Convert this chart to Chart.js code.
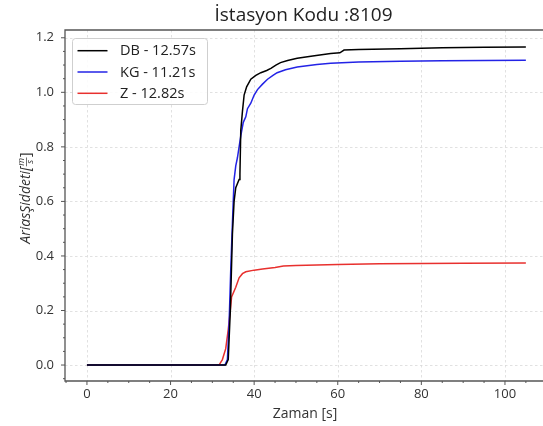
<!DOCTYPE html>
<html>
<head>
<meta charset="utf-8">
<script src="https://cdn.jsdelivr.net/npm/chart.js@4.4.1/dist/chart.umd.min.js"></script>
<style>
  html, body { margin: 0; padding: 0; background: #fff; overflow: hidden; }
</style>
</head>
<body>
<canvas id="chart" width="543" height="426"></canvas>
<script>
// Başlık ve seri etiketleri
const TITLE = "İstasyon Kodu :8109";
const SERIES_LABELS = ["DB - 12.57s", "KG - 11.21s", "Z - 12.82s"];
const SERIES_COLORS = ["#000000", "#2323e6", "#e8302e"];

// Eksen işaretleri
const X_TICKS = [0, 20, 40, 60, 80, 100];
const Y_TICKS = [0.0, 0.2, 0.4, 0.6, 0.8, 1.0, 1.2];

// DB bileşeni (zaman, Arias şiddeti)
const DB_T = [0, 33.2, 33.8, 34.3, 34.8, 35.2, 35.6, 36.4, 36.6, 36.8, 37.2, 37.6, 38.2, 39.2, 40.4, 41.6, 43, 44, 45.2, 46.3, 48, 50.3, 54, 58.3, 60.5, 61.5, 65, 75, 85, 95, 105];
const DB_V = [0, 0, 0.02, 0.2, 0.48, 0.6, 0.65, 0.68, 0.70, 0.86, 0.93, 0.99, 1.02, 1.048, 1.062, 1.072, 1.08, 1.088, 1.1, 1.109, 1.117, 1.125, 1.133, 1.142, 1.145, 1.155, 1.157, 1.16, 1.163, 1.165, 1.166];

// KG bileşeni
const KG_T = [0, 33.0, 33.6, 34.0, 34.4, 34.8, 35.2, 35.6, 36.0, 36.8, 37.4, 38.0, 38.4, 39.2, 40.0, 40.8, 42, 43.2, 44.5, 45.5, 47.5, 50.3, 55, 58.3, 65, 75, 85, 95, 105];
const KG_V = [0, 0, 0.02, 0.15, 0.35, 0.52, 0.68, 0.73, 0.76, 0.84, 0.89, 0.91, 0.94, 0.96, 0.99, 1.01, 1.03, 1.048, 1.062, 1.072, 1.083, 1.093, 1.102, 1.107, 1.111, 1.114, 1.116, 1.117, 1.118];

// Z bileşeni
const Z_T = [0, 31.6, 32.4, 33.2, 33.8, 34.3, 34.6, 35.6, 36.4, 37.2, 38, 40, 42, 45, 47, 50, 55, 60, 70, 80, 90, 105];
const Z_V = [0, 0, 0.02, 0.06, 0.13, 0.2, 0.25, 0.285, 0.32, 0.335, 0.342, 0.348, 0.352, 0.358, 0.363, 0.365, 0.367, 0.369, 0.371, 0.372, 0.373, 0.374];

const FONT = "'Open Sans', 'Noto Sans', sans-serif";
const toPoints = (t, v) => t.map((x, i) => ({ x: x, y: v[i] }));

// Izgara, eksen çizgileri, başlık, eksen adları ve lejant
const decor = {
    id: "decor",
    beforeDatasetsDraw(chart) {
        const { ctx, chartArea: a, scales: { x, y } } = chart;
        ctx.save();
        ctx.strokeStyle = "#d9d9d9";
        ctx.lineWidth = 0.8;
        ctx.setLineDash([2.5, 2.5]);
        X_TICKS.forEach(v => {
            const px = Math.round(x.getPixelForValue(v)) + 0.5;
            ctx.beginPath(); ctx.moveTo(px, a.top); ctx.lineTo(px, a.bottom); ctx.stroke();
        });
        Y_TICKS.forEach(v => {
            const py = Math.round(y.getPixelForValue(v)) + 0.5;
            ctx.beginPath(); ctx.moveTo(a.left, py); ctx.lineTo(a.right, py); ctx.stroke();
        });
        ctx.restore();
    },
    afterDatasetsDraw(chart) {
        const { ctx, chartArea: a, scales: { x, y } } = chart;
        ctx.save();
        // eksen çizgileri
        ctx.strokeStyle = "#555";
        ctx.lineWidth = 1.3;
        ctx.beginPath();
        ctx.moveTo(a.right, a.top); ctx.lineTo(a.left, a.top);
        ctx.lineTo(a.left, a.bottom); ctx.lineTo(a.right, a.bottom);
        ctx.stroke();
        // küçük ve büyük çentikler
        ctx.lineWidth = 1;
        for (let v = -5; v <= 110; v += 5) {
            const px = x.getPixelForValue(v);
            if (px < a.left || px > a.right) continue;
            const len = v % 20 === 0 ? 4 : 2;
            ctx.beginPath(); ctx.moveTo(px, a.bottom); ctx.lineTo(px, a.bottom + len); ctx.stroke();
        }
        for (let k = -1; k <= 24; k++) {
            const v = k * 0.05;
            const py = y.getPixelForValue(v);
            if (py < a.top || py > a.bottom) continue;
            const len = k % 4 === 0 ? 4 : 2;
            ctx.beginPath(); ctx.moveTo(a.left, py); ctx.lineTo(a.left - len, py); ctx.stroke();
        }
        // başlık
        ctx.fillStyle = "#222";
        ctx.textAlign = "center";
        ctx.textBaseline = "alphabetic";
        ctx.font = "19px " + FONT;
        ctx.fillText(TITLE, 303.5, 21);
        // x ekseni adı
        ctx.font = "14px " + FONT;
        ctx.fillStyle = "#333";
        ctx.fillText("Zaman [s]", 305, 418);
        // y ekseni adı (kesirli birim)
        ctx.save();
        ctx.translate(26, 198);
        ctx.rotate(-Math.PI / 2);
        ctx.textAlign = "left";
        ctx.textBaseline = "middle";
        ctx.font = "italic 14px " + FONT;
        const part1 = "AriasŞiddeti[";
        const w1 = ctx.measureText(part1).width;
        ctx.font = "italic 9px " + FONT;
        const wf = Math.max(ctx.measureText("m").width, ctx.measureText("s").width) + 2;
        ctx.font = "14px " + FONT;
        const w3 = ctx.measureText("]").width;
        let sx = -(w1 + wf + w3) / 2;
        ctx.font = "italic 14px " + FONT;
        ctx.fillText(part1, sx, 0);
        sx += w1;
        ctx.font = "italic 9px " + FONT;
        ctx.textAlign = "center";
        ctx.fillText("m", sx + wf / 2, -4.5);
        ctx.fillText("s", sx + wf / 2, 4.5);
        ctx.lineWidth = 0.7;
        ctx.strokeStyle = "#333";
        ctx.beginPath(); ctx.moveTo(sx + 0.5, 0.5); ctx.lineTo(sx + wf - 0.5, 0.5); ctx.stroke();
        sx += wf;
        ctx.textAlign = "left";
        ctx.font = "14px " + FONT;
        ctx.fillText("]", sx, 0);
        ctx.restore();
        // lejant
        const lx = 72.5, ly = 38.5, lw = 135, lh = 66;
        ctx.fillStyle = "rgba(255,255,255,0.85)";
        ctx.strokeStyle = "#cfcfcf";
        ctx.lineWidth = 1;
        ctx.beginPath();
        ctx.roundRect(lx, ly, lw, lh, 3);
        ctx.fill(); ctx.stroke();
        ctx.font = "14.5px " + FONT;
        ctx.textAlign = "left";
        ctx.textBaseline = "middle";
        chart.data.datasets.forEach((ds, i) => {
            const ry = 50.7 + i * 21.3;
            ctx.strokeStyle = ds.borderColor;
            ctx.lineWidth = 1.5;
            ctx.beginPath(); ctx.moveTo(77.5, ry); ctx.lineTo(107.5, ry); ctx.stroke();
            ctx.fillStyle = "#222";
            ctx.fillText(ds.label, 120, ry + 0.5);
        });
        ctx.restore();
    }
};

const ctx = document.getElementById("chart").getContext("2d");
const chart = new Chart(ctx, {
    type: "line",
    data: {
        datasets: [
            { label: SERIES_LABELS[0], data: toPoints(DB_T, DB_V), borderColor: SERIES_COLORS[0] },
            { label: SERIES_LABELS[1], data: toPoints(KG_T, KG_V), borderColor: SERIES_COLORS[1] },
            { label: SERIES_LABELS[2], data: toPoints(Z_T, Z_V), borderColor: SERIES_COLORS[2] }
        ].map(d => Object.assign(d, { borderWidth: 1.5, pointRadius: 0, tension: 0, fill: false }))
    },
    options: {
        responsive: false,
        animation: false,
        devicePixelRatio: 1,
        layout: { padding: { top: 30, right: 0, left: 0, bottom: 0 } },
        plugins: { legend: { display: false }, tooltip: { enabled: false } },
        scales: {
            x: {
                type: "linear",
                min: -5.25,
                max: 109.1,
                afterFit: s => { s.height = 45; },
                afterBuildTicks: s => { s.ticks = X_TICKS.map(v => ({ value: v })); },
                grid: { display: false, drawTicks: false },
                border: { display: false },
                ticks: { color: "#333", font: { family: FONT, size: 13 }, padding: 5, maxRotation: 0 }
            },
            y: {
                type: "linear",
                min: -0.0585,
                max: 1.2285,
                afterFit: s => { s.width = 65; },
                afterBuildTicks: s => { s.ticks = Y_TICKS.map(v => ({ value: v })); },
                grid: { display: false, drawTicks: false },
                border: { display: false },
                ticks: { color: "#333", font: { family: FONT, size: 13 }, padding: 11, callback: v => v.toFixed(1) }
            }
        }
    },
    plugins: [decor]
});
</script>
</body>
</html>
